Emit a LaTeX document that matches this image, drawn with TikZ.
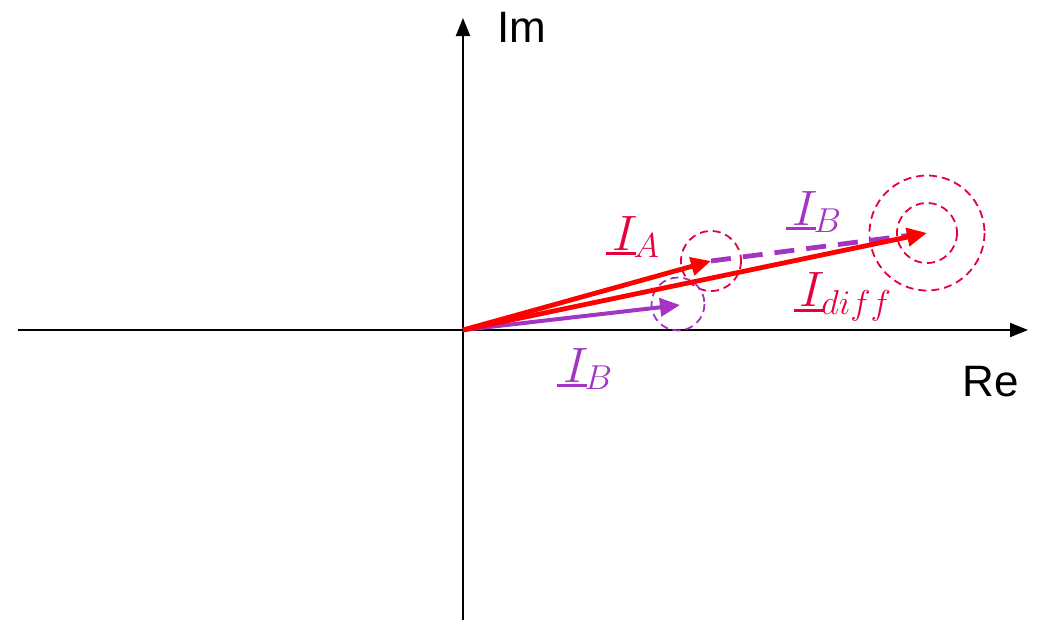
\documentclass[tikz,border=0pt]{standalone}
\usepackage{fontspec}
\newfontfamily\axisfont{Liberation Sans}
\usetikzlibrary{arrows.meta}
\definecolor{vred}{RGB}{255,0,0}
\definecolor{lblred}{RGB}{230,0,60}
\definecolor{vpurple}{RGB}{163,52,196}
\newcommand\phasor[1]{\makebox[0pt][l]{\hspace{-0.12em}\rule[-2.6pt]{0.62em}{1.6pt}}#1}
\tikzset{
  axis/.style={line width=1pt,-{Triangle[length=9pt,width=7pt]}},
  redvec/.style={vred,line width=2.4pt,-{Triangle[length=10pt,width=9pt]}},
  purvec/.style={vpurple,line width=2pt,-{Triangle[length=10pt,width=9pt]}},
  tolred/.style={lblred,line width=0.9pt,dash pattern=on 4pt off 2.5pt},
  tolpur/.style={vpurple,line width=0.9pt,dash pattern=on 4pt off 2.5pt},
  purdash/.style={vpurple,line width=2.4pt,dash pattern=on 10pt off 6pt},
  axlbl/.style={font=\axisfont\fontsize{22}{26}\selectfont},
  veclbl/.style={font=\fontsize{24}{28}\selectfont,inner sep=0pt}
}
\begin{document}
\begin{tikzpicture}[x=0.5pt,y=-0.5pt]
\useasboundingbox (0,0) rectangle (1041,623);
\coordinate (O) at (463,330);
\coordinate (xl) at (18,330);
\coordinate (xr) at (1028,330);
\coordinate (yb) at (463,620);
\coordinate (yt) at (463,18);
\coordinate (A) at (711,261);
\coordinate (B) at (680,305);
\coordinate (D) at (927,233);
% axes
\draw[axis] (xl) -- (xr);
\draw[axis] (yb) -- (yt);
\node[axlbl] (im) at (522,27) {Im};
\node[axlbl] (re) at (991,382) {Re};
% tolerance circles
\draw[tolred] (A) circle[radius=30];
\draw[tolpur] (678,304) circle[radius=26.5];
\draw[tolred] (D) circle[radius=30];
\draw[tolred] (D) circle[radius=57.5];
% vectors
\draw[purdash] (A) -- (D);
\draw[purvec] (O) -- (B);
\draw[redvec] (O) -- (A);
\draw[redvec] (O) -- (D);
% labels
\node[veclbl,lblred] (la) at (636,237) {$\phasor{I}_{A}$};
\node[veclbl,vpurple] (lbt) at (817,212) {$\phasor{I}_{B}$};
\node[veclbl,lblred] (ld) at (846,297) {$\phasor{I}_{diff}$};
\node[veclbl,vpurple] (lbb) at (588,369) {$\phasor{I}_{B}$};
\end{tikzpicture}
\end{document}
